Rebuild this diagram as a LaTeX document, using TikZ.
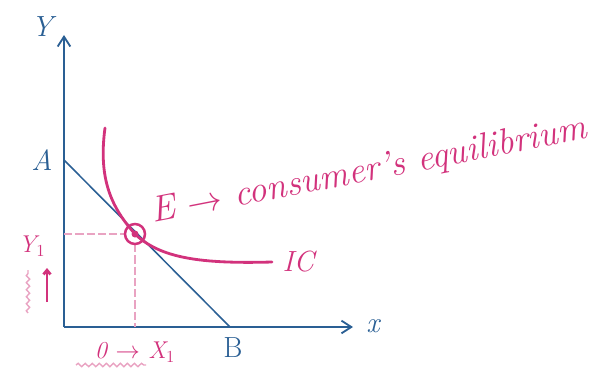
\documentclass[tikz,border=0pt]{standalone}
\usepackage{tikz}
\usetikzlibrary{calc,positioning,arrows.meta,decorations.pathmorphing}
\definecolor{axisblue}{HTML}{2A5F94}
\definecolor{inkpink}{HTML}{D2327C}
\definecolor{guidepink}{HTML}{E9A3C2}

\tikzset{
  axisline/.style={draw=axisblue,line width=1.3pt,-{Straight Barb[length=7pt,width=9pt]}},
  budgetline/.style={draw=axisblue,line width=1.1pt},
  icline/.style={draw=inkpink,line width=2pt,line cap=round},
  guide/.style={draw=guidepink,line width=1pt,dash pattern=on 6pt off 2pt},
  bluetext/.style={text=axisblue,font=\huge\itshape},
  pinktext/.style={text=inkpink,font=\huge\itshape},
  wavy/.style={draw=guidepink,line width=1pt,decorate,decoration={snake,amplitude=1.2pt,segment length=5pt}}
}

\begin{document}
\begin{tikzpicture}[x=0.025cm,y=0.025cm]
\useasboundingbox (0,0) rectangle (605,370);
% axes and budget line
\coordinate (O) at (64,43);
\coordinate (ytop) at (64,335);
\coordinate (xend) at (353,43);
\coordinate (A) at (64,210);
\coordinate (B) at (230,43);
\coordinate (E) at (135,136);
\draw[axisline] (O) -- (ytop);
\draw[axisline] (O) -- (xend);
\draw[budgetline] (A) -- (B);
\node[bluetext] (ylab) at (42,343) {Y};
\node[bluetext] (alab) at (42,210) {A};
\node[bluetext] (xlab) at (373,44) {x};
\node[bluetext,font=\huge] (blab) at (233,22) {B};
% guides to the axes
\coordinate (ey) at (O |- E);
\coordinate (ex) at (E |- O);
\draw[guide] (ey) -- ($(E)+(-10,0)$);
\draw[guide] ($(E)+(0,-10)$) -- (ex);
% indifference curve
\coordinate (ictop) at (105,242);
\coordinate (icend) at (272,108);
\draw[icline] (ictop) .. controls (98,190) and (112,162) .. (E)
  .. controls (160,112) and (200,106) .. (icend);
\draw[inkpink,line width=1.8pt] (E) circle (10);
\fill[inkpink] (E) circle (3.5);
\node[pinktext,right=4pt of icend] (iclab) {IC};
\node[pinktext,font=\fontsize{26}{30}\selectfont\itshape,anchor=base west,rotate=11,inner sep=0pt] (elab) at (153,147)
  {E $\rightarrow$ consumer's equilibrium};
% quantities
\node[pinktext,font=\LARGE\itshape] (y1lab) at (32,124) {Y$_1$};
\coordinate (bar1) at (47,68);
\coordinate (bar2) at (47,102);
\draw[inkpink,line width=2pt,-{Straight Barb[length=3pt,width=5pt]}] (bar1) -- (bar2);
\coordinate (wv1) at (28,57);
\coordinate (wv2) at (28,100);
\draw[wavy] (wv1) -- (wv2);
\node[pinktext,font=\LARGE\itshape] (x1lab) at (135,18) {0 $\rightarrow$ X$_1$};
\coordinate (ul1) at (76,5);
\coordinate (ul2) at (146,5);
\draw[wavy] (ul1) -- (ul2);
\end{tikzpicture}
\end{document}
